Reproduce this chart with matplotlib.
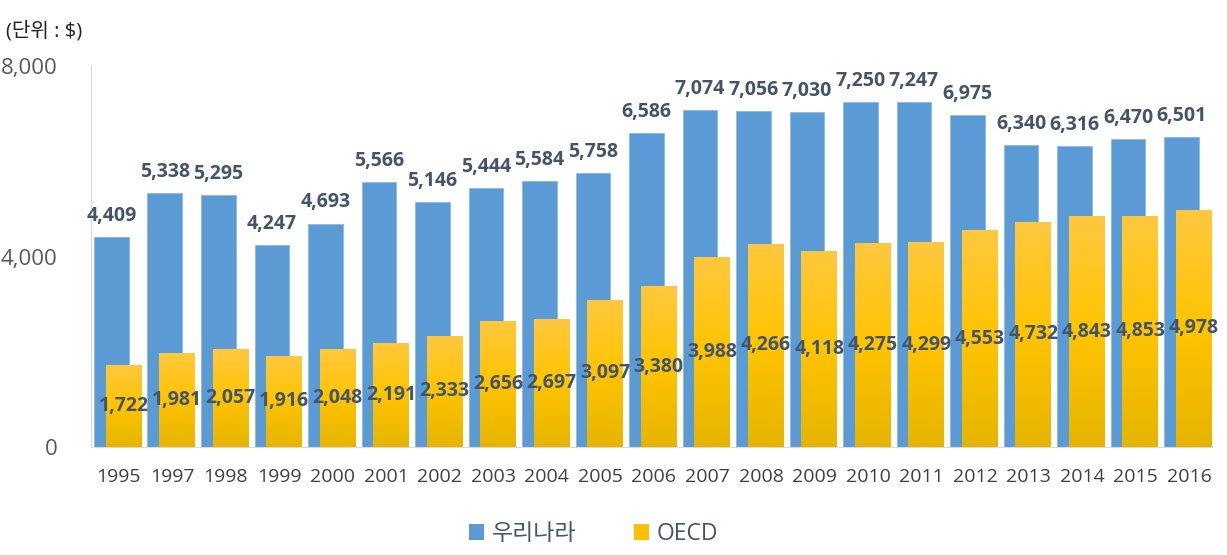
import matplotlib
matplotlib.use('Agg')
import matplotlib.pyplot as plt
from matplotlib.patches import Patch
from matplotlib.colors import LinearSegmentedColormap
import numpy as np

plt.rcParams['font.family'] = ['Open Sans', 'Noto Sans CJK KR', 'DejaVu Sans']

''' Data '''
years = ['1995', '1997', '1998', '1999', '2000', '2001', '2002', '2003', '2004', '2005', '2006',
         '2007', '2008', '2009', '2010', '2011', '2012', '2013', '2014', '2015', '2016']
korea = [4409, 5338, 5295, 4247, 4693, 5566, 5146, 5444, 5584, 5758, 6586,
         7074, 7056, 7030, 7250, 7247, 6975, 6340, 6316, 6470, 6501]
oecd = [1722, 1981, 2057, 1916, 2048, 2191, 2333, 2656, 2697, 3097, 3380,
        3988, 4266, 4118, 4275, 4299, 4553, 4732, 4843, 4853, 4978]

blue = '#5B9BD5'
label_col = '#44546A'
yellow_cmap = LinearSegmentedColormap.from_list('yel', ['#E6B400', '#FFC400', '#FFC83F'])

fig = plt.figure(figsize=(12.27, 5.55), dpi=100)
ax = fig.add_axes([0.0742, 0.1946, 0.9136, 0.6864])

x = np.arange(len(years))
off_k, w_k = -0.14, 0.65
off_o, w_o = 0.09, 0.67

# 우리나라 (behind)
b1 = ax.bar(x + off_k, korea, width=w_k, color=blue, edgecolor='#8DB8E2', linewidth=0.6, zorder=2)

# OECD with gradient fill
b2 = ax.bar(x + off_o, oecd, width=w_o, color='none', edgecolor='none', zorder=3)
grad = np.linspace(0, 1, 256).reshape(-1, 1)
for rect in b2:
    x0, w, h = rect.get_x(), rect.get_width(), rect.get_height()
    im = ax.imshow(grad, extent=[x0, x0 + w, 0, h], origin='lower', cmap=yellow_cmap,
                   aspect='auto', zorder=3)
    im.set_clip_path(rect)

# value labels
for xi, v in zip(x, korea):
    ax.annotate(f'{v:,}', (xi + off_k, v), xytext=(0, 8), textcoords='offset points',
                ha='center', va='bottom', fontsize=14, fontweight='bold', color=label_col, zorder=5)
for xi, v in zip(x, oecd):
    ax.text(xi + off_o, v / 2, f'{v:,}', ha='center', va='center', fontsize=14,
            fontweight='bold', color=label_col, zorder=5)

ax.set_xlim(-0.52, 20.43)
ax.set_ylim(0, 8000)
ax.set_yticks([0, 4000, 8000])
ax.set_yticklabels(['0', '4,000', '8,000'], fontsize=16, color='#595959')
ax.set_xticks(x)
ax.set_xticklabels(years, fontsize=14, color='#404040')
ax.tick_params(axis='both', length=0)
ax.tick_params(axis='y', pad=24)
ax.tick_params(axis='x', pad=15)
for s in ['top', 'right']:
    ax.spines[s].set_visible(False)
ax.spines['left'].set_color('#D9D9D9')
ax.spines['bottom'].set_color('#D9D9D9')

fig.text(0.005, 0.944, '(단위 : $)', fontsize=14.5, color='#222222', va='center')

handles = [Patch(facecolor=blue), Patch(facecolor='#FFC000')]
fig.legend(handles, ['우리나라', 'OECD'], loc='center', bbox_to_anchor=(0.484, 0.038), ncol=2,
           frameon=False, fontsize=16.5, handlelength=0.65, handleheight=0.65, handletextpad=0.35,
           columnspacing=2.5, labelcolor=label_col)

fig.savefig('out.png', dpi=100)
